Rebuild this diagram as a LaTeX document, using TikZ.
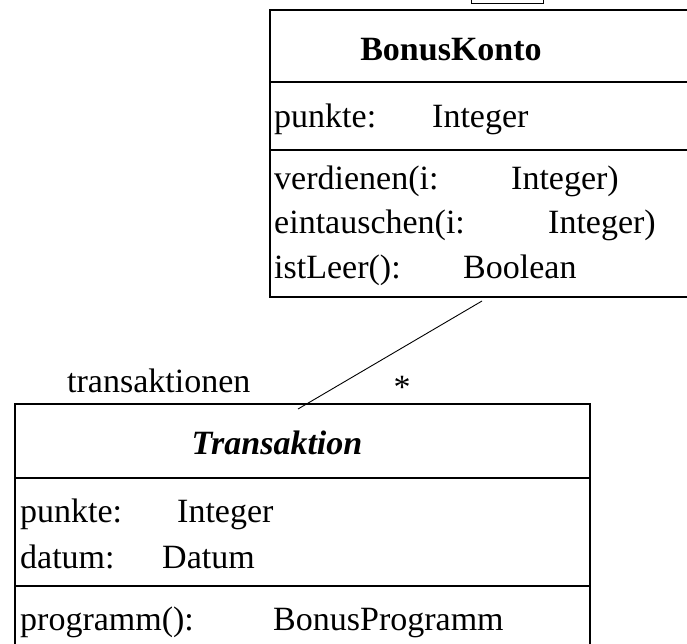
\documentclass[tikz,border=0pt]{standalone}
\usepackage{fontspec}
\setmainfont{Liberation Serif}
\begin{document}
\begin{tikzpicture}[x=1pt,y=-1pt,
  txt/.style={anchor=base west,inner sep=0pt,font=\fontsize{34}{40}\selectfont},
  ttl/.style={anchor=base,inner sep=0pt,font=\fontsize{34}{40}\selectfont\bfseries},
  frame/.style={draw,line width=1.5pt},
  link/.style={draw,line width=0.9pt}]
\useasboundingbox (0,0) rectangle (687,643);
\clip (0,0) rectangle (687,643);

% small box partly above the page
\draw[frame, line width=1pt] (471,-10) rectangle (543,3);

% class BonusKonto
\draw[frame] (270,10) rectangle (705,297);
\draw[frame] (270,82) -- (705,82);
\draw[frame] (270,150) -- (705,150);
\node[ttl] (kTitle) at (451,60) {BonusKonto};
\node[txt] (kA1) at (274,127) {punkte:};
\node[txt] (kA1t) at (432,127) {Integer};
\node[txt] (kM1) at (274,189) {verdienen(i:};
\node[txt] (kM1t) at (511,189) {Integer)};
\node[txt] (kM2) at (274,233) {eintauschen(i:};
\node[txt] (kM2t) at (548,233) {Integer)};
\node[txt] (kM3) at (274,278) {istLeer():};
\node[txt] (kM3t) at (463,278) {Boolean};

% class Transaktion
\draw[frame] (15,404) rectangle (590,670);
\draw[frame] (15,478) -- (590,478);
\draw[frame] (15,586) -- (590,586);
\node[ttl, font=\fontsize{34}{40}\selectfont\bfseries\itshape] (tTitle) at (277,454) {Transaktion};
\node[txt] (tA1) at (20,522) {punkte:};
\node[txt] (tA1t) at (177,522) {Integer};
\node[txt] (tA2) at (20,568) {datum:};
\node[txt] (tA2t) at (162,568) {Datum};
\node[txt] (tM1) at (20,630) {programm():};
\node[txt] (tM1t) at (273,630) {BonusProgramm};

% association
\coordinate (aTop) at (482,301);
\coordinate (aBot) at (298,409);
\draw[link] (aTop) -- (aBot);
\node[txt] (role) at (67,392) {transaktionen};
\node[inner sep=0pt, font=\fontsize{34}{40}\selectfont] (mult) at (402,387) {*};
\end{tikzpicture}
\end{document}
